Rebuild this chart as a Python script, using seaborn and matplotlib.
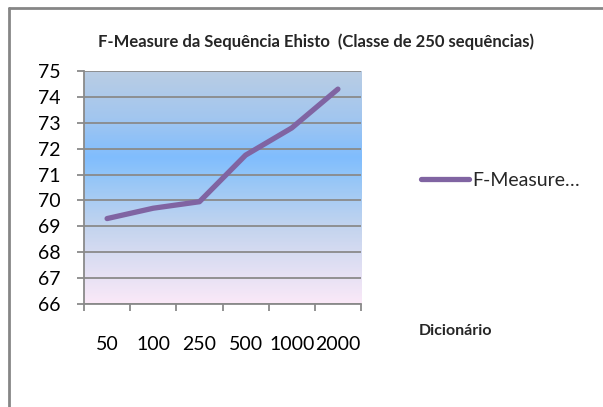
import numpy as np
import pandas as pd
import matplotlib
matplotlib.use("Agg")
import matplotlib.pyplot as plt
from matplotlib.colors import LinearSegmentedColormap
from matplotlib.lines import Line2D
import seaborn as sns

# Dictionary sizes and the F-Measure obtained for each
dicionario = ["50", "100", "250", "500", "1000", "2000"]
f_measure = [69.3, 69.7, 69.95, 71.75, 72.8, 74.3]
y_ticks = [66, 67, 68, 69, 70, 71, 72, 73, 74, 75]

df = pd.DataFrame({"Dicionário": dicionario, "F-Measure": f_measure})

sns.set_theme(style="white")
plt.rcParams["font.family"] = ["Lato", "DejaVu Sans"]

fig = plt.figure(figsize=(6.03, 4.07), dpi=100)
W, H = 603, 407
ax = fig.add_axes([84 / W, 1 - 304 / H, (361 - 84) / W, (304 - 71) / H])

# vertical gradient fill of the plot area
cmap = LinearSegmentedColormap.from_list(
    "fill",
    [(0.0, "#fbe9f8"), (0.33, "#c3d4ee"), (0.55, "#92c5f8"),
     (0.63, "#80bdfe"), (0.8, "#a2c6ef"), (1.0, "#b9cde4")])
grad = np.linspace(0, 1, 256).reshape(-1, 1)
ax.imshow(grad, cmap=cmap, origin="lower", aspect="auto",
          extent=[0, 1, 0, 1], transform=ax.transAxes, zorder=0)

sns.lineplot(data=df, x="Dicionário", y="F-Measure", ax=ax, color="#8064a2",
             linewidth=3.8, solid_capstyle="round", label="F-Measure…",
             sort=False, zorder=3)

ax.set_xlim(-0.5, len(dicionario) - 0.5)
ax.set_ylim(66, 75)
ax.set_yticks(y_ticks)
ax.set_yticklabels([str(v) for v in y_ticks], fontsize=14, color="#000000")
ax.yaxis.grid(True, color="#8a8a8a", linewidth=1.3, zorder=1)
ax.set_axisbelow(False)
for gl in ax.get_ygridlines():
    gl.set_zorder(1)

ax.set_xticks(range(len(dicionario)))
ax.set_xticklabels(dicionario, fontsize=14, color="#000000")
ax.set_xticks(np.arange(-0.5, len(dicionario)), minor=True)
ax.tick_params(axis="x", which="major", length=0, pad=23)
ax.tick_params(axis="x", which="minor", length=5, width=1.3, color="#8a8a8a",
               direction="out", bottom=True)
ax.tick_params(axis="y", length=5, width=1.3, color="#8a8a8a",
               direction="out", left=True, pad=12)

for side in ("top", "right"):
    ax.spines[side].set_visible(False)
for side in ("left", "bottom"):
    ax.spines[side].set_color("#8a8a8a")
    ax.spines[side].set_linewidth(1.3)
    ax.spines[side].set_zorder(2)

ax.set_xlabel("")
ax.set_ylabel("")

leg = ax.legend(loc="center left", bbox_to_anchor=((413 - 84) / (361 - 84), (304 - 180) / (304 - 71)),
                frameon=False, fontsize=14, handlelength=2.5, handletextpad=0.15,
                borderaxespad=0)
for h in leg.get_lines():
    h.set_linewidth(3.8)

fig.text(316 / W, 1 - 42 / H,
         "F-Measure da Sequência Ehisto  (Classe de 250 sequências)",
         ha="center", va="center", fontsize=12, fontweight="bold")
fig.text(455 / W, 1 - 331 / H, "Dicionário", ha="center", va="center",
         fontsize=11.5, fontweight="bold")

# outer chart frame
fig.add_artist(Line2D([9 / W, 9 / W], [0, 1 - 8 / H], transform=fig.transFigure,
                      color="#868686", linewidth=2))
fig.add_artist(Line2D([9 / W, 1], [1 - 8 / H, 1 - 8 / H], transform=fig.transFigure,
                      color="#868686", linewidth=2))

fig.savefig("out.png", dpi=100, facecolor="white")
